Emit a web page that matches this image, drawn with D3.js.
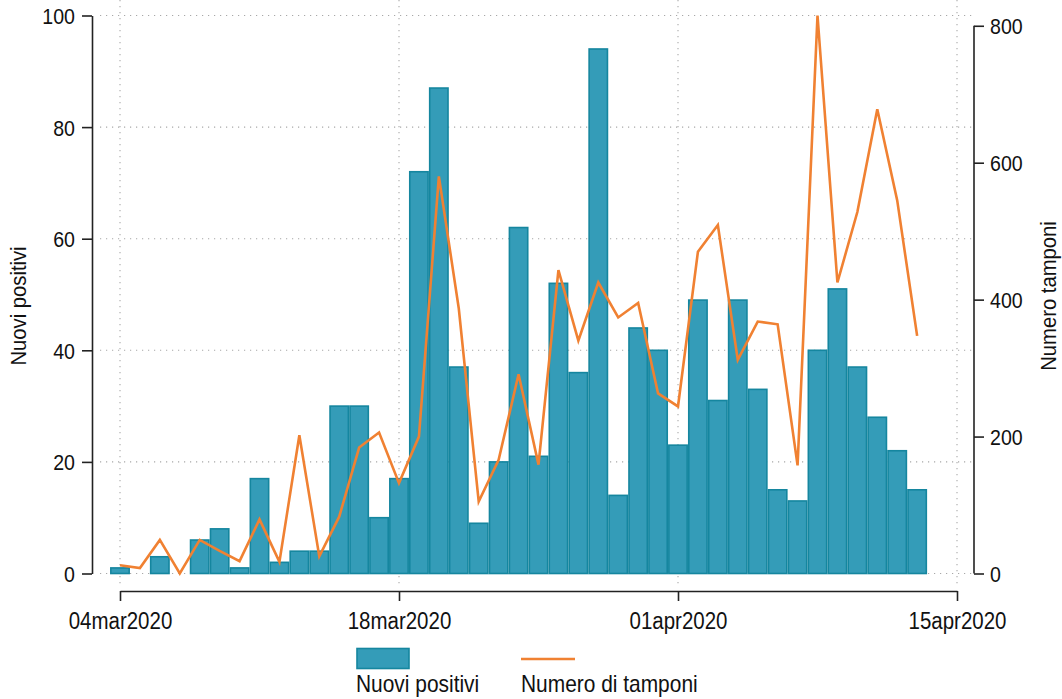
<!DOCTYPE html>
<html>
<head>
<meta charset="utf-8">
<script src="https://cdn.jsdelivr.net/npm/d3@7"></script>
<style>
  html, body { margin: 0; padding: 0; background: #fff; }
  svg { display: block; }
  text { font-family: "Liberation Sans", Arial, sans-serif; fill: #111; }
</style>
</head>
<body>
<svg id="chart" width="1062" height="699"></svg>
<script>
// ---- data ----
const days = [
  "2020-03-04","2020-03-05","2020-03-06","2020-03-07","2020-03-08","2020-03-09","2020-03-10",
  "2020-03-11","2020-03-12","2020-03-13","2020-03-14","2020-03-15","2020-03-16","2020-03-17",
  "2020-03-18","2020-03-19","2020-03-20","2020-03-21","2020-03-22","2020-03-23","2020-03-24",
  "2020-03-25","2020-03-26","2020-03-27","2020-03-28","2020-03-29","2020-03-30","2020-03-31",
  "2020-04-01","2020-04-02","2020-04-03","2020-04-04","2020-04-05","2020-04-06","2020-04-07",
  "2020-04-08","2020-04-09","2020-04-10","2020-04-11","2020-04-12","2020-04-13"
];
const nuoviPositivi = [1,0,3,0,6,8,1,17,2,4,4,30,30,10,17,72,87,37,9,20,62,21,52,36,94,14,44,40,
  23,49,31,49,33,15,13,40,51,37,28,22,15];
const numeroTamponi = [12,8,49,0,49,33,18,79,17,202,25,83,184,206,132,200,580,387,105,166,291,159,443,340,425,374,395,263,
  244,470,509,312,368,364,158,815,425,528,678,545,347];
const xTickDates = ["2020-03-04","2020-03-18","2020-04-01","2020-04-15"];
const xTickLabels = ["04mar2020","18mar2020","01apr2020","15apr2020"];
const leftTicks = [0,20,40,60,80,100];
const rightTicks = [0,200,400,600,800];
const seriesNames = ["Nuovi positivi","Numero di tamponi"];
const axisTitles = ["Nuovi positivi","Numero tamponi"];

// ---- setup ----
const parse = d3.utcParse("%Y-%m-%d");
const svg = d3.select("#chart");
const barFill = "#349cb8", barStroke = "#15869f", lineColor = "#f08132";
const SX = 0.89;

const x = d3.scaleUtc().domain([parse("2020-03-04"), parse("2020-04-15")]).range([120, 957]);
const yL = d3.scaleLinear().domain([0, 100]).range([573.5, 15.5]);
const yR = d3.scaleLinear().domain([0, 815]).range([573.5, 15.5]);
const dayW = x(parse("2020-03-05")) - x(parse("2020-03-04"));

const data = days.map((d, i) => ({date: parse(d), pos: nuoviPositivi[i], tam: numeroTamponi[i]}));

// ---- gridlines ----
const grid = svg.append("g").attr("stroke", "#a8a8a8").attr("stroke-width", 1.1).attr("stroke-dasharray", "1.2,4.8");
grid.selectAll("line.h").data(leftTicks).join("line")
  .attr("x1", 100).attr("x2", 972).attr("y1", d => yL(d)).attr("y2", d => yL(d));
grid.selectAll("line.v").data(xTickDates).join("line")
  .attr("y1", 0).attr("y2", 587).attr("x1", d => x(parse(d))).attr("x2", d => x(parse(d)));

// ---- bars ----
svg.append("g").selectAll("rect").data(data.filter(d => d.pos > 0)).join("rect")
  .attr("x", d => x(d.date) - dayW / 2 + 0.8)
  .attr("width", dayW - 1.6)
  .attr("y", d => yL(d.pos))
  .attr("height", d => yL(0) - yL(d.pos))
  .attr("fill", barFill).attr("stroke", barStroke).attr("stroke-width", 1.6);

// ---- line ----
svg.append("path").datum(data)
  .attr("fill", "none").attr("stroke", lineColor).attr("stroke-width", 2.6)
  .attr("stroke-linejoin", "miter")
  .attr("d", d3.line().x(d => x(d.date)).y(d => yR(d.tam)));

function condense(sel, size) {
  sel.each(function () {
    const t = d3.select(this);
    const tx = +t.attr("x") || 0;
    t.attr("x", 0).attr("transform", `translate(${tx},0) scale(${SX},1)`)
     .style("font-size", size + "px").attr("fill", "#111");
  });
}

// ---- left axis ----
const gL = svg.append("g").attr("transform", "translate(92,0)")
  .call(d3.axisLeft(yL).tickValues(leftTicks).tickSize(10).tickPadding(7).tickSizeOuter(0));
gL.select(".domain").attr("stroke", "#222").attr("stroke-width", 1.6);
gL.selectAll(".tick line").attr("stroke", "#222").attr("stroke-width", 1.6);
gL.selectAll(".tick text").attr("dy", "0.36em").call(condense, 22);

// ---- right axis ----
const gR = svg.append("g").attr("transform", "translate(974,0)")
  .call(d3.axisRight(yR).tickValues(rightTicks).tickSize(10).tickPadding(6).tickSizeOuter(0));
gR.select(".domain").attr("d", `M0,${yR(800)}V${yR(0)}`).attr("stroke", "#222").attr("stroke-width", 1.6);
gR.selectAll(".tick line").attr("stroke", "#222").attr("stroke-width", 1.6);
gR.selectAll(".tick text").attr("dy", "0.36em").call(condense, 22);

// ---- x axis ----
const gX = svg.append("g").attr("transform", "translate(0,591)")
  .call(d3.axisBottom(x).tickValues(xTickDates.map(parse)).tickSize(10).tickPadding(12).tickSizeOuter(0)
    .tickFormat((d, i) => xTickLabels[i]));
gX.select(".domain").attr("stroke", "#222").attr("stroke-width", 1.6);
gX.selectAll(".tick line").attr("stroke", "#222").attr("stroke-width", 1.6);
gX.selectAll(".tick text").attr("dy", "0.71em").call(condense, 23);
svg.selectAll("g").attr("font-family", null).attr("font-size", null);

// ---- axis titles ----
svg.append("text").attr("transform", `translate(26,306) rotate(-90) scale(0.9,1)`)
  .attr("text-anchor", "middle").style("font-size", "22.5px").text(axisTitles[0]);
svg.append("text").attr("transform", `translate(1056,296) rotate(-90) scale(0.9,1)`)
  .attr("text-anchor", "middle").style("font-size", "22.5px").text(axisTitles[1]);

// ---- legend ----
const lg = svg.append("g");
lg.append("rect").attr("x", 357).attr("y", 648.5).attr("width", 52).attr("height", 20)
  .attr("fill", barFill).attr("stroke", barStroke).attr("stroke-width", 1.6);
lg.append("line").attr("x1", 521).attr("x2", 575).attr("y1", 659).attr("y2", 659)
  .attr("stroke", lineColor).attr("stroke-width", 2.6);
lg.append("text").attr("transform", `translate(356,692) scale(0.91,1)`).style("font-size", "23px").text(seriesNames[0]);
lg.append("text").attr("transform", `translate(521,692) scale(0.91,1)`).style("font-size", "23px").text(seriesNames[1]);
</script>
</body>
</html>
